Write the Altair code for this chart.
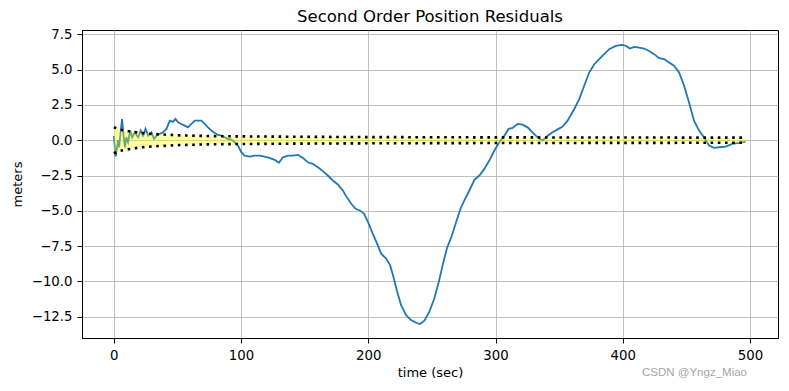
import altair as alt
import pandas as pd

# residual trace (time in sec, residual in meters)
time_sec = [0, 1.5, 3.4, 4.2, 5.3, 6.5, 7.8, 8.8, 9.8, 11.2, 12.8, 14.4, 16.5, 19.1, 21.2, 23, 24.9, 27,
            29.6, 31.6, 33.5, 36.1, 38.7, 41.4, 44, 46.5, 48.4, 50.5, 53, 55.7, 58.3, 61, 63.6, 66.2,
            68.8, 71.4, 74, 76.7, 79.3, 81.9, 84.5, 87.1, 89.7, 92.4, 95, 97.6, 100.2, 102.8, 106.8,
            110.7, 114.6, 118.5, 122.4, 126.4, 129.8, 132.9, 136.8, 140.7, 144.7, 148.6, 152.5, 156.4,
            160.4, 164.3, 168.2, 172.1, 176.1, 180, 183.1, 186.6, 190, 193.4, 196.6, 199.8, 203.5,
            207.5, 210.1, 214, 217.2, 219.8, 222.4, 225.8, 229.7, 233.6, 237.6, 240.7, 244.1, 248,
            251.9, 255.5, 258.8, 262, 265.5, 269, 272.5, 275.5, 279.4, 283.4, 287.3, 291.2, 295.1,
            299.1, 303, 306.9, 310.3, 313.4, 317.4, 321.3, 325.2, 329.1, 333, 337, 340.9, 344.8,
            349.5, 352.5, 356.6, 361.9, 365.8, 369.7, 373.6, 377.6, 381.5, 385.4, 389.3, 394.6,
            399.3, 402.4, 405.6, 409, 412.9, 416.8, 420.7, 424.6, 428.6, 432.5, 436.4, 440.3, 444.3,
            448.2, 452.1, 456, 460, 463.9, 467.8, 471.7, 475.7, 480.9, 486.1, 491.4, 496.6]
residual_m = [0.3, -1.15, 0.0, -0.5, 0.56, 1.5, 0.2, -0.5, 0.2, -0.15, 0.68, 0.2, 0.56, 0.2, 0.68, 0.32,
              0.8, 0.32, 0.56, 0.09, 0.32, 0.44, 0.56, 0.8, 1.38, 1.3, 1.5, 1.26, 1.15, 1.03, 0.91,
              1.15, 1.38, 1.38, 1.38, 1.15, 0.91, 0.68, 0.51, 0.37, 0.32, 0.2, 0.09, 0.04, -0.15, -0.38,
              -0.85, -1.09, -1.16, -1.09, -1.09, -1.16, -1.25, -1.39, -1.6, -1.21, -1.09, -1.09, -1.04,
              -1.25, -1.56, -1.67, -1.91, -2.19, -2.5, -2.85, -3.13, -3.56, -4.03, -4.5, -4.85, -4.97,
              -5.2, -5.79, -6.61, -7.44, -8.03, -8.38, -8.86, -9.68, -10.62, -11.68, -12.39, -12.73,
              -12.92, -13.01, -12.78, -12.14, -11.2, -10.0, -8.7, -7.6, -6.8, -5.8, -4.85, -4.26, -3.56,
              -2.8, -2.5, -2.03, -1.44, -0.73, -0.15, 0.32, 0.8, 0.87, 1.15, 1.1, 0.91, 0.56, 0.2, -0.03,
              0.32, 0.56, 0.8, 0.95, 1.38, 2.21, 2.91, 3.85, 4.79, 5.38, 5.74, 6.09, 6.44, 6.68, 6.75,
              6.68, 6.49, 6.61, 6.56, 6.49, 6.32, 6.09, 5.81, 5.74, 5.5, 5.27, 4.79, 3.85, 2.67, 1.38,
              0.68, 0.2, -0.38, -0.54, -0.5, -0.45, -0.26, -0.19, -0.1]

# one-sigma envelope
std_time = [0, 2, 5, 10, 20, 30, 50, 75, 100, 150, 200, 300, 400, 497]
std_m = [0.92, 0.85, 0.75, 0.66, 0.52, 0.44, 0.35, 0.29, 0.27, 0.24, 0.22, 0.2, 0.19, 0.18]

x_ticks = [0, 100, 200, 300, 400, 500]
y_ticks = [-12.5, -10.0, -7.5, -5.0, -2.5, 0.0, 2.5, 5.0, 7.5]

res_df = pd.DataFrame({"t": time_sec, "v": residual_m})
std_df = pd.DataFrame({"t": std_time, "hi": std_m, "lo": [-s for s in std_m]})
std_long = pd.concat([
    pd.DataFrame({"t": std_time, "v": std_m, "side": "upper"}),
    pd.DataFrame({"t": std_time, "v": [-s for s in std_m], "side": "lower"}),
])

xs = alt.Scale(domain=[-25, 522], nice=False, zero=False)
ys = alt.Scale(domain=[-14.0, 7.8], nice=False, zero=False)

x_axis = alt.Axis(values=x_ticks, title="time (sec)", format="d", titlePadding=5,
                  labelOverlap=False, labelFlush=False)
y_axis = alt.Axis(values=y_ticks, title="meters", format=".1f", labelOverlap=False, labelFlush=False,
                  labelExpr="replace(datum.label, '-', '\u2212')", titlePadding=7)

line = alt.Chart(res_df).mark_line(color="#1f77b4", strokeWidth=1.8, clip=True).encode(
    x=alt.X("t:Q", scale=xs, axis=x_axis),
    y=alt.Y("v:Q", scale=ys, axis=y_axis),
)

band = alt.Chart(std_df).mark_area(color="#ffff00", opacity=0.35, clip=True).encode(
    x=alt.X("t:Q", scale=xs, axis=x_axis),
    y=alt.Y("hi:Q", scale=ys, axis=y_axis),
    y2="lo:Q",
)

dots = alt.Chart(std_long).mark_line(color="black", strokeWidth=2.6, strokeDash=[2.6, 4.6],
                                     strokeCap="butt", clip=True).encode(
    x=alt.X("t:Q", scale=xs, axis=x_axis),
    y=alt.Y("v:Q", scale=ys, axis=y_axis),
    detail="side:N",
)

mark_df = pd.DataFrame({"label": ["CSDN @Yngz_Miao"]})
watermark = alt.Chart(mark_df).mark_text(font="Liberation Sans Narrow, Liberation Sans", fontSize=11.5,
                                         color="#a6a6a6", align="right", baseline="middle").encode(
    text="label:N", x=alt.value(665), y=alt.value(343)
)

chart = alt.layer(line, band, dots, watermark).properties(
    width=696, height=308,
    title="Second Order Position Residuals",
    autosize=alt.AutoSizeParams(type="none"),
    padding={"left": 74, "top": 22, "right": 3, "bottom": 43},
).configure_axis(
    labelFont="DejaVu Sans", labelFontSize=13.3, labelColor="black",
    titleFont="DejaVu Sans", titleFontSize=13, titleFontWeight="normal", titleColor="black",
    tickColor="black", tickSize=5, domainColor="black", labelPadding=5,
    gridColor="#b0b0b0", gridWidth=0.8, gridOpacity=1,
).configure_view(stroke="black", strokeWidth=1).configure_title(
    font="DejaVu Sans", fontSize=16.5, fontWeight="normal", color="black", offset=2, anchor="middle"
)

chart.save("out.html", embed_options={"renderer": "svg", "actions": False})
